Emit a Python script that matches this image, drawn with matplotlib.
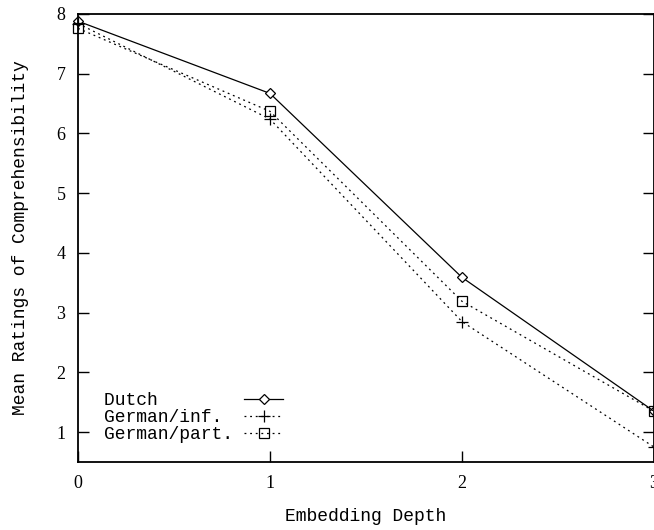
import matplotlib
matplotlib.use('Agg')
import matplotlib.pyplot as plt

# Embedding depth vs. mean comprehensibility ratings
depth = [0, 1, 2, 3]
dutch = [7.88, 6.67, 3.59, 1.35]
german_inf = [7.84, 6.24, 2.85, 0.75]
german_part = [7.76, 6.37, 3.19, 1.35]
series_names = ['Dutch', 'German/inf.', 'German/part.']

y_ticks = [1, 2, 3, 4, 5, 6, 7, 8]
x_ticks = [0, 1, 2, 3]

mono = 'Liberation Mono'
serif = 'Liberation Serif'

# pad names so the monospace legend text lines up on the left
width = max(len(n) for n in series_names)
names = [n.ljust(width) for n in series_names]

fig = plt.figure(figsize=(6.54, 5.30), dpi=100)
ax = fig.add_axes([0.1193, 0.1283, 0.8807, 0.8453])

dots = (0, (1.5, 3))
ax.plot(depth, dutch, color='black', lw=0.9, marker='D', ms=5,
        mfc='white', mec='black', mew=0.9, label=names[0], clip_on=False)
ax.plot(depth, german_inf, color='black', lw=0.9, ls=dots, marker='+',
        ms=8, mew=0.9, label=names[1], clip_on=False)
ax.plot(depth, german_part, color='black', lw=0.9, ls=dots, marker='s',
        ms=7, mfc='none', mec='black', mew=0.9, label=names[2], clip_on=False)

ax.set_xlim(0, 3)
ax.set_ylim(0.5, 8)
ax.set_xticks(x_ticks)
ax.set_yticks(y_ticks)
ax.tick_params(direction='in', length=8, width=1, top=False, right=True,
               labelsize=13, pad=9)
for lab in ax.get_xticklabels() + ax.get_yticklabels():
    lab.set_family(serif)
for s in ax.spines.values():
    s.set_linewidth(1.3)

ax.set_xlabel('Embedding Depth', family=mono, fontsize=13, labelpad=12)
ax.set_ylabel('Mean Ratings of Comprehensibility', family=mono, fontsize=13, labelpad=20)

leg = ax.legend(loc='lower left', bbox_to_anchor=(0.045, 0.042), frameon=False,
                markerfirst=False, prop={'family': mono, 'size': 13},
                handlelength=2.2, handletextpad=0.6, labelspacing=0.0,
                borderpad=0.0, borderaxespad=0.0)

fig.savefig('out.png', dpi=100)
